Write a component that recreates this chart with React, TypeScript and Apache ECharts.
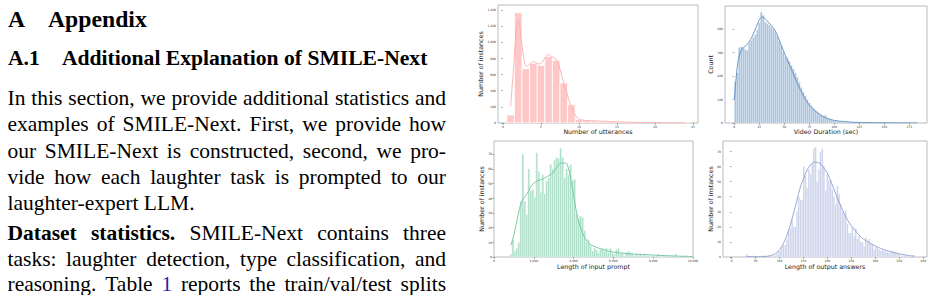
import React, { useEffect, useRef } from "react";
import * as echarts from "echarts";

// ---------- data ----------
// Chart 1: number of utterances (bins centred on integers, width 1)
const UTTER_BIN_START = 0.5;
const UTTER_BIN_WIDTH = 1;
const UTTER_COUNTS = [100, 1365, 672, 740, 713, 822, 775, 495, 227, 45, 30, 26, 20, 16, 12, 10, 8, 6, 5, 4, 4, 3, 3, 2];
const UTTER_KDE = [[1, 200], [1.4, 700], [1.8, 1200], [2.0, 1270], [2.3, 1120], [2.7, 820], [3.1, 700], [3.5, 730], [4.0, 760], [4.4, 740], [4.8, 730], [5.2, 760], [5.6, 820], [6.0, 850], [6.4, 820], [6.9, 800], [7.3, 730], [7.8, 560], [8.3, 400], [8.8, 250], [9.3, 130], [9.9, 55], [10.5, 35], [11.5, 30], [13, 22], [15, 14], [17, 9], [19, 6], [21, 4], [24, 2]];
const UTTER_X_TICKS = [0, 5, 10, 15, 20, 25];
const UTTER_Y_TICKS = [0, 200, 400, 600, 800, 1000, 1200, 1400];

// Chart 2: video duration (sec)
const DUR_BIN_START = 0;
const DUR_BIN_WIDTH = 2;
const DUR_COUNTS = [176, 214, 322, 326, 323, 314, 310, 340, 352, 365, 376, 398, 428, 473, 460, 432, 424, 418, 410, 401, 386, 370, 348, 330, 302, 284, 276, 262, 246, 232, 214, 196,
  174, 152, 132, 116, 100, 86, 74, 64, 56, 48, 41, 35, 30, 33, 22, 18, 15, 12, 10, 8, 7, 6, 5, 5, 4, 4, 3, 3, 3, 2, 2, 2,
  2, 1, 1, 1, 1, 1, 1, 0, 1, 1, 0, 1, 0, 1, 0, 1, 0, 0, 1, 0, 0, 1, 0, 0, 1, 0, 1, 1];
const DUR_KDE = [[0, 100], [2, 200], [4, 270], [7, 310], [10, 325], [14, 340], [18, 370], [22, 410], [25, 440], [28, 452], [32, 440], [36, 420], [40, 400], [44, 365], [48, 320], [52, 280], [56, 240], [60, 200], [64, 160], [68, 125], [72, 95], [76, 72], [80, 55], [85, 38], [90, 25], [95, 17], [100, 11], [110, 6], [120, 3], [135, 1.5], [150, 1], [165, 0.5], [183, 0.3]];
const DUR_X_TICKS = [0, 25, 50, 75, 100, 125, 150, 175];
const DUR_Y_TICKS = [0, 100, 200, 300, 400];

// Chart 3: length of input prompt
const PROMPT_BIN_START = 800;
const PROMPT_BIN_WIDTH = 100;
const PROMPT_COUNTS = [2, 12, 4, 6, 10, 38, 70, 38, 29, 60, 45, 46, 41, 71, 58, 44, 56, 43, 52, 54, 63, 60, 66, 68, 67, 74, 68, 54, 60, 56, 63, 52, 53,
  29, 26, 28, 27, 18, 10, 12, 8, 4, 6, 5, 3, 5, 6, 4, 6, 3, 6, 3, 2, 5, 6, 2, 3, 1, 3, 4, 3, 2, 1, 2, 1, 2, 1, 2, 0, 1, 0, 1, 0, 1, 2, 0, 0, 1, 0, 0, 0, 1, 0, 2, 0, 0, 0, 0, 1, 0, 0, 1];
const PROMPT_KDE = [[850, 8], [1000, 15], [1200, 28], [1400, 38], [1660, 43], [1900, 49], [2200, 52], [2430, 53], [2700, 55], [2940, 57], [3200, 62], [3370, 64], [3600, 64], [3750, 60], [3900, 50], [4050, 38], [4200, 27], [4400, 18], [4560, 13], [4800, 9], [5080, 7], [5500, 5], [5930, 3.5], [6500, 2.5], [7640, 1.6], [8500, 1], [10000, 0.3]];
const PROMPT_X_TICKS = [0, 2000, 4000, 6000, 8000, 10000];
const PROMPT_Y_TICKS = [0, 10, 20, 30, 40, 50, 60, 70];

// Chart 4: length of output answers
const ANS_BIN_START = 30;
const ANS_BIN_WIDTH = 3.5;
const ANS_COUNTS = [2, 0, 0, 0, 1, 0, 0, 0, 0, 1, 0, 1, 0, 1, 1, 0, 1, 1, 2, 4, 4, 7, 8, 8, 12, 17, 19, 25, 20, 20, 30, 40, 38, 38, 60, 54, 46, 58, 55, 62,
  72, 73, 50, 58, 70, 72, 60, 44, 55, 51, 51, 45, 40, 35, 47, 42, 35, 30, 28, 31, 22, 16, 16, 20, 14, 19, 12, 14, 10, 10, 7, 13, 10, 12, 9, 8, 5, 7, 6, 5,
  4, 5, 4, 4, 3, 3, 3, 4, 3, 3, 2, 2, 1, 1, 1, 1, 0, 1, 0, 1, 1, 0];
const ANS_KDE = [[30, 0.3], [60, 0.2], [80, 0.8], [95, 3], [105, 7], [115, 14], [125, 24], [135, 36], [145, 48], [149, 51], [160, 59], [173, 63], [185, 62], [195, 58], [201, 55], [215, 44], [229, 33], [243, 24], [257, 18], [271, 13], [285, 10], [299, 7.5], [313, 5.5], [327, 4], [341, 2.8], [355, 1.8], [370, 1], [383, 0.5]];
const ANS_X_TICKS = [0, 50, 100, 150, 200, 250, 300, 350, 400];
const ANS_Y_TICKS = [0, 10, 20, 30, 40, 50, 60, 70];

// ---------- text ----------
const HEADING_1 = ["A", "Appendix"];
const HEADING_2 = ["A.1", "Additional Explanation of SMILE-Next"];
// "*" prefix = bold word, "#" prefix = link-coloured word
const BODY_LINES = [
  { text: "In this section, we provide additional statistics and", justify: true },
  { text: "examples of SMILE-Next. First, we provide how", justify: true },
  { text: "our SMILE-Next is constructed, second, we pro-", justify: true },
  { text: "vide how each laughter task is prompted to our", justify: true },
  { text: "laughter-expert LLM.", justify: false },
  { text: "*Dataset *statistics. SMILE-Next contains three", justify: true },
  { text: "tasks: laughter detection, type classification, and", justify: true },
  { text: "reasoning. Table #1 reports the train/val/test splits", justify: true },
];

function bins(start: number, width: number, counts: number[]) {
  return counts.map((c, i) => [start + i * width, start + (i + 1) * width, c]);
}

const SERIF = '"Liberation Serif", "Times New Roman", serif';
const SANS = '"DejaVu Sans", sans-serif';

export default function App() {
  const ref = useRef<HTMLDivElement>(null);
  useEffect(() => {
    if (!ref.current) return;
    const chart = echarts.init(ref.current, null, { renderer: "svg" });

    const canvas = document.createElement("canvas");
    const ctx = canvas.getContext("2d")!;
    const measure = (t: string, size: number, bold: boolean) => {
      ctx.font = `${bold ? "bold " : ""}${size}px ${SERIF}`;
      return ctx.measureText(t).width;
    };

    const graphics: any[] = [];
    const addText = (t: string, x: number, baseline: number, size: number, bold: boolean, fill = "#000") => {
      graphics.push({
        type: "text",
        x,
        y: baseline - 0.3375 * size,
        silent: true,
        style: { text: t, fontSize: size, fontFamily: SERIF, fontWeight: bold ? "bold" : "normal", fill, align: "left", verticalAlign: "middle" },
      });
    };

    // headings
    addText(HEADING_1[0], 8, 27, 23.7, true);
    addText(HEADING_1[1], 48, 27, 23.7, true);
    addText(HEADING_2[0], 8, 65, 21.6, true);
    addText(HEADING_2[1], 62, 65, 21.6, true);

    // body
    const BODY_SIZE = 21.5;
    const LEFT = 7.5;
    const RIGHT = 446;
    const baselines = [105.5, 131.7, 157.9, 184, 210.2, 240.2, 266, 290.8];
    BODY_LINES.forEach((line, li) => {
      const words = line.text.split(" ").map((w) => {
        if (w.startsWith("*")) return { t: w.slice(1), bold: true, fill: "#000" };
        if (w.startsWith("#")) return { t: w.slice(1), bold: false, fill: "#1f1fa8" };
        return { t: w, bold: false, fill: "#000" };
      });
      const widths = words.map((w) => measure(w.t, BODY_SIZE, w.bold));
      const total = widths.reduce((a, b) => a + b, 0);
      const gap = line.justify ? (RIGHT - LEFT - total) / (words.length - 1) : measure(" ", BODY_SIZE, false);
      let x = LEFT;
      words.forEach((w, i) => {
        addText(w.t, x, baselines[li], BODY_SIZE, w.bold, w.fill);
        x += widths[i] + gap;
      });
    });

    const panels = [
      { grid: { left: 498, top: 5, width: 200, height: 118 }, xmin: -0.66, xmax: 25.66, ymax: 1460, xt: UTTER_X_TICKS, yt: UTTER_Y_TICKS,
        xname: "Number of utterances", yname: "Number of instances", xgap: 5.5, ygap: 11.5,
        bars: bins(UTTER_BIN_START, UTTER_BIN_WIDTH, UTTER_COUNTS), kde: UTTER_KDE, fill: "#ffc8c8", line: "#ffabab", stroke: 0.8 },
      { grid: { left: 725, top: 6, width: 202, height: 117 }, xmin: -9.3, xmax: 192.7, ymax: 499, xt: DUR_X_TICKS, yt: DUR_Y_TICKS,
        xname: "Video Duration (sec)", yname: "Count", xgap: 5.5, ygap: 9,
        bars: bins(DUR_BIN_START, DUR_BIN_WIDTH, DUR_COUNTS), kde: DUR_KDE, fill: "#9fbedc", line: "#5e90c4", stroke: 0.35 },
      { grid: { left: 494, top: 141, width: 199, height: 116 }, xmin: 0, xmax: 10000, ymax: 79, xt: PROMPT_X_TICKS, yt: PROMPT_Y_TICKS,
        xname: "Length of input prompt", yname: "Number of instances", xgap: 6.5, ygap: 6.5,
        bars: bins(PROMPT_BIN_START, PROMPT_BIN_WIDTH, PROMPT_COUNTS), kde: PROMPT_KDE, fill: "#aedfc9", line: "#6fc3a3", stroke: 0.35 },
      { grid: { left: 723, top: 141, width: 204, height: 116 }, xmin: -18, xmax: 408, ymax: 77, xt: ANS_X_TICKS, yt: ANS_Y_TICKS,
        xname: "Length of output answers", yname: "Number of instances", xgap: 6, ygap: 8,
        bars: bins(ANS_BIN_START, ANS_BIN_WIDTH, ANS_COUNTS), kde: ANS_KDE, fill: "#c7cfe8", line: "#8e9fcc", stroke: 0.35 },
    ];

    const axisCommon = (ticks: number[]) => ({
      type: "value",
      axisLine: { show: false },
      splitLine: { show: false },
      axisTick: { show: true, length: 1.8, lineStyle: { color: "#555", width: 0.5 }, customValues: ticks },
      axisLabel: { fontSize: 3, color: "#333", fontFamily: SANS, margin: 2, customValues: ticks },
      nameLocation: "middle",
      nameTextStyle: { fontSize: 6.3, color: "#222", fontFamily: SANS },
    });

    const option: any = {
      animation: false,
      grid: panels.map((p) => ({ ...p.grid, show: true, borderColor: "#aaaaaa", borderWidth: 0.8, backgroundColor: "transparent" })),
      xAxis: panels.map((p, i) => ({ ...axisCommon(p.xt), gridIndex: i, min: p.xmin, max: p.xmax, name: p.xname, nameGap: p.xgap })),
      yAxis: panels.map((p, i) => ({ ...axisCommon(p.yt), gridIndex: i, min: 0, max: p.ymax, name: p.yname, nameGap: p.ygap })),
      series: panels.flatMap((p, i) => [
        {
          type: "custom",
          xAxisIndex: i,
          yAxisIndex: i,
          clip: true,
          silent: true,
          encode: { x: [0, 1], y: 2 },
          data: p.bars,
          renderItem: (params: any, api: any) => {
            const a = api.coord([api.value(0), api.value(2)]);
            const b = api.coord([api.value(1), 0]);
            return {
              type: "rect",
              shape: { x: a[0], y: a[1], width: b[0] - a[0], height: b[1] - a[1] },
              style: { fill: p.fill, stroke: "#ffffff", lineWidth: p.stroke },
            };
          },
        },
        {
          type: "line",
          xAxisIndex: i,
          yAxisIndex: i,
          data: p.kde,
          smooth: 0.35,
          showSymbol: false,
          silent: true,
          lineStyle: { color: p.line, width: 0.9 },
          z: 5,
        },
      ]),
      graphic: graphics,
    };
    chart.setOption(option);
    return () => chart.dispose();
  }, []);

  return <div ref={ref} style={{ position: "fixed", left: 0, top: 0, width: 934, height: 295, background: "#fff" }} />;
}
